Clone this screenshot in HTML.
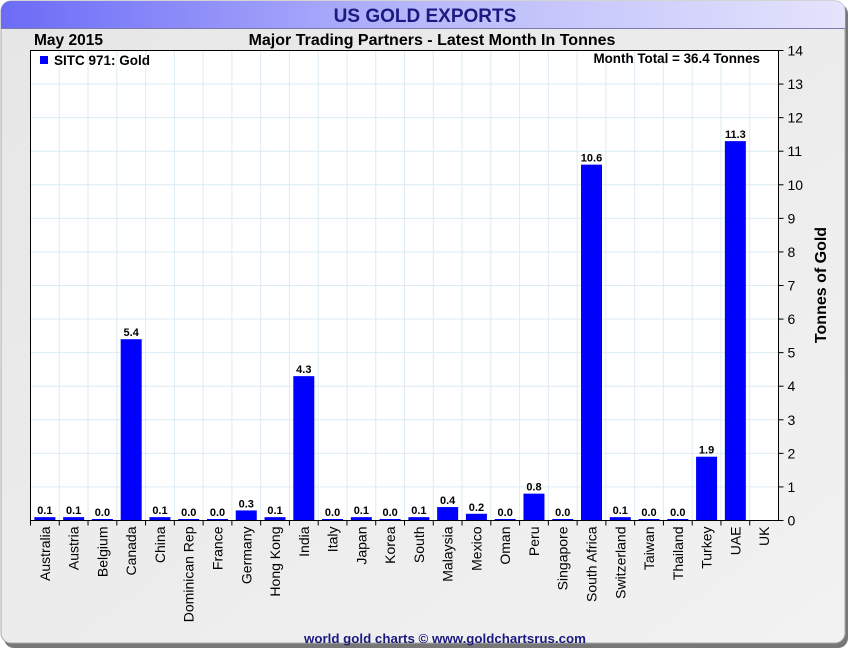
<!DOCTYPE html>
<html><head><meta charset="utf-8"><style>
body{margin:0;background:#fff;font-family:"Liberation Sans",sans-serif;}
svg text{font-family:"Liberation Sans",sans-serif;}
</style></head><body>
<svg width="850" height="650" xmlns="http://www.w3.org/2000/svg">
<defs>
<linearGradient id="tb" x1="0" x2="1"><stop offset="0" stop-color="#6b6bf7"/><stop offset="0.5" stop-color="#b8b8fb"/><stop offset="1" stop-color="#e4e4fc"/></linearGradient>
<linearGradient id="bg" x1="0" x2="1" y1="0" y2="1"><stop offset="0" stop-color="#e6e6e6"/><stop offset="1" stop-color="#f2f2f2"/></linearGradient>
</defs>
<rect x="4" y="4" width="844" height="644" rx="10" fill="#777"/>
<rect x="1" y="1" width="844" height="642" rx="10" fill="url(#bg)" stroke="#aaa"/>
<path d="M11 1 H835 A10 10 0 0 1 845 11 V28 H1 V11 A10 10 0 0 1 11 1Z" fill="url(#tb)"/>
<line x1="1" y1="28.5" x2="845" y2="28.5" stroke="#7a7ab0"/>
<text x="425" y="22" text-anchor="middle" font-size="19" font-weight="bold" fill="#1a1a80">US GOLD EXPORTS</text>
<text x="34" y="45" font-size="15.5" font-weight="bold" fill="#000">May 2015</text>
<text x="432" y="45" text-anchor="middle" font-size="16" font-weight="bold" fill="#000">Major Trading Partners - Latest Month In Tonnes</text>
<rect x="30.5" y="50.5" width="748" height="470" fill="#fff"/>
<g id="grid"></g>
<g id="bars"></g>
<rect x="30.5" y="50.5" width="748" height="470" fill="none" stroke="#000"/>
<g id="axes"></g>
<rect x="40" y="56" width="8" height="8" fill="#0000ff"/>
<text x="54" y="65" font-size="13.5" font-weight="bold" fill="#000">SITC 971: Gold</text>
<text x="760" y="63" text-anchor="end" font-size="13.4" font-weight="bold" fill="#000">Month Total = 36.4 Tonnes</text>
<text transform="translate(826,285) rotate(-90)" text-anchor="middle" font-size="16" font-weight="bold" fill="#000">Tonnes of Gold</text>
<text x="445" y="643" text-anchor="middle" font-size="13.3" font-weight="bold" fill="#1a1a80">world gold charts © www.goldchartsrus.com</text>
</svg>
<script>
const categories=["Australia","Austria","Belgium","Canada","China","Dominican Rep","France","Germany","Hong Kong","India","Italy","Japan","Korea","South","Malaysia","Mexico","Oman","Peru","Singapore","South Africa","Switzerland","Taiwan","Thailand","Turkey","UAE","UK"];
const values=[0.1,0.1,0.0,5.4,0.1,0.0,0.0,0.3,0.1,4.3,0.0,0.1,0.0,0.1,0.4,0.2,0.0,0.8,0.0,10.6,0.1,0.0,0.0,1.9,11.3,null];
const yTicks=[0,1,2,3,4,5,6,7,8,9,10,11,12,13,14];
const NS="http://www.w3.org/2000/svg";
const L=30.5,R=778.5,T=50.5,B=520.5,yMax=14;
const n=categories.length, cw=(R-L)/n;
const y=v=>B-(v/yMax)*(B-T);
const xc=i=>L+cw*(i+0.5);
function mk(tag,attrs,parent){const e=document.createElementNS(NS,tag);for(const k in attrs)e.setAttribute(k,attrs[k]);parent.appendChild(e);return e;}
const grid=document.getElementById('grid'),bars=document.getElementById('bars'),axes=document.getElementById('axes');
yTicks.forEach(t=>{
 if(t>0&&t<yMax){const g=mk('line',{x1:L,x2:R,y1:y(t),y2:y(t),stroke:'#dcecf4'},grid);
 
 }
 const tk=mk('line',{x1:R,x2:R+5,y1:y(t),y2:y(t),stroke:'#000'},axes);
 
 
 const lb=mk('text',{x:R+9,y:y(t)+5,'font-size':14,fill:'#000'},axes);
 lb.textContent=t;
 
 
});
categories.forEach((c,i)=>{
 const xb=L+cw*i;
 if(i>0){const g=mk('line',{x1:xb,x2:xb,y1:T,y2:B,stroke:'#dcecf4'},grid);
 
 }
 const tk=mk('line',{x1:xb,x2:xb,y1:B,y2:B+5,stroke:'#000'},axes);
 
 
 const lb=mk('text',{transform:`translate(${xc(i)+5},${B+6}) rotate(-90)`,'text-anchor':'end','font-size':14,fill:'#000'},axes);
 lb.textContent=c;
 
 
 const v=values[i];
 if(v!==null){
  const top=Math.min(y(v),B-1.5);
  const r=mk('rect',{x:xc(i)-10.5,y:top,width:21,height:B-top,fill:'#0000ff'},bars);
  
  
  const vl=mk('text',{x:xc(i),y:top-3,'text-anchor':'middle','font-size':11,'font-weight':'bold',fill:'#000'},bars);
  vl.textContent=v.toFixed(1);
  
  
 }
});
</script>
</body></html>
